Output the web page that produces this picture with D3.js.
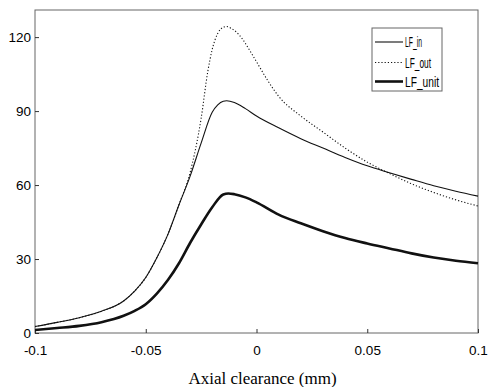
<!DOCTYPE html>
<html>
<head>
<meta charset="utf-8">
<script src="https://cdn.jsdelivr.net/npm/d3@7"></script>
<style>
html,body{margin:0;padding:0;background:#fff;}
svg{display:block;}
</style>
</head>
<body>
<svg id="chart" width="496" height="387"></svg>
<script>
// ---- data ----
const xIn  = [-0.1,-0.09,-0.08,-0.07,-0.06,-0.055,-0.05,-0.045,-0.04,-0.035,-0.03,-0.025,-0.02,-0.0175,-0.015,-0.0135,-0.01,-0.005,0,0.01,0.02,0.03,0.04,0.05,0.06,0.07,0.08,0.09,0.1];
const lfIn = [2.6,4.3,6.2,8.8,13,17,22.5,30.5,40,52,63.5,77,89.5,92.5,94,94.2,93.5,91,88,83.2,78.8,75,71.2,67.8,65,62.3,59.7,57.5,55.5];

const xOut  = [-0.1,-0.09,-0.08,-0.07,-0.06,-0.055,-0.05,-0.045,-0.04,-0.035,-0.03,-0.025,-0.022,-0.02,-0.0175,-0.015,-0.0135,-0.0115,-0.009,-0.006,-0.003,0,0.005,0.01,0.02,0.03,0.04,0.05,0.06,0.07,0.08,0.09,0.1];
const lfOut = [2.6,4.3,6.2,8.8,13,17,22.5,30.5,40,52,65,87,106,115,121.5,124,124.3,123.6,122,118.8,114.5,110,102.5,96,88,81.5,75,69.3,64.7,60.5,57,54,51.5];

const xUnit  = [-0.1,-0.09,-0.08,-0.07,-0.06,-0.055,-0.05,-0.045,-0.04,-0.035,-0.03,-0.025,-0.02,-0.015,-0.0127,-0.01,-0.005,0,0.01,0.02,0.03,0.04,0.05,0.06,0.07,0.08,0.09,0.1];
const lfUnit = [1.2,2.0,2.9,4.4,7,9,11.7,16,21.5,28.3,36.5,44,51,56.2,56.6,56.3,55,53,48,44.5,41.3,38.5,36.3,34.3,32.3,30.6,29.3,28.3];

const xTicks = [-0.1,-0.05,0,0.05,0.1];
const xTickLabels = ["-0.1","-0.05","0","0.05","0.1"];
const yTicks = [0,30,60,90,120];
const legendLabels = ["LF_in","LF_out","LF_unit"];

// ---- layout ----
const svg = d3.select("#chart");
const L = 35, R = 478, T = 10, B = 333;
const x = d3.scaleLinear().domain([-0.1,0.1]).range([L,R]);
const y = d3.scaleLinear().domain([0,131]).range([B,T]);

// frame
svg.append("rect").attr("x",L).attr("y",T).attr("width",R-L).attr("height",B-T)
  .attr("fill","none").attr("stroke","#666").attr("stroke-width",1);

// axes (inward ticks)
const xAxis = svg.append("g").attr("transform",`translate(0,${B})`)
  .call(d3.axisBottom(x).tickValues(xTicks).tickSizeInner(-4).tickSizeOuter(0)
        .tickFormat((d,i)=>xTickLabels[i]));
xAxis.select(".domain").remove();
xAxis.selectAll("line").attr("stroke","#333");
xAxis.selectAll("text").attr("y",22).attr("dy",0)
  .attr("font-family","'Liberation Sans', Arial, sans-serif").attr("font-size",13.5).attr("fill","#000");

const yAxis = svg.append("g").attr("transform",`translate(${L},0)`)
  .call(d3.axisLeft(y).tickValues(yTicks).tickSizeInner(-4).tickSizeOuter(0));
yAxis.select(".domain").remove();
yAxis.selectAll("line").attr("stroke","#333");
yAxis.selectAll("text").attr("x",-4).attr("dy","0.36em")
  .attr("font-family","'Liberation Sans', Arial, sans-serif").attr("font-size",13.5).attr("fill","#000");

// x axis title
svg.append("text").attr("x",262.5).attr("y",384).attr("text-anchor","middle")
  .attr("font-family","'Liberation Serif','Times New Roman',serif").attr("font-size",17)
  .text("Axial clearance (mm)");

// lines
const line = d3.line().x(d=>x(d[0])).y(d=>y(d[1])).curve(d3.curveMonotoneX);
const series = [
  {xs:xIn, ys:lfIn, w:1.1, dash:null},
  {xs:xOut, ys:lfOut, w:1.1, dash:"1.2,2"},
  {xs:xUnit, ys:lfUnit, w:2.6, dash:null}
];
series.forEach(s=>{
  svg.append("path").datum(s.xs.map((v,i)=>[v,s.ys[i]]))
    .attr("d",line).attr("fill","none").attr("stroke","#111")
    .attr("stroke-width",s.w).attr("stroke-dasharray",s.dash);
});

// legend
const lg = svg.append("g");
lg.append("rect").attr("x",372).attr("y",28).attr("width",70).attr("height",63)
  .attr("fill","#fff").attr("stroke","#666").attr("stroke-width",1);
const rowsY = [42,62.5,81.5];
const textLens = [17,26,34];
legendLabels.forEach((lab,i)=>{
  const s = series[i];
  lg.append("line").attr("x1",375).attr("x2",403).attr("y1",rowsY[i]).attr("y2",rowsY[i])
    .attr("stroke","#111").attr("stroke-width",s.w).attr("stroke-dasharray",s.dash);
  lg.append("text").attr("x",405).attr("y",rowsY[i]).attr("dy","0.36em")
    .attr("font-family","'Liberation Sans', Arial, sans-serif")
    .attr("font-size",14).attr("textLength",textLens[i]).attr("lengthAdjust","spacingAndGlyphs")
    .text(lab);
});
</script>
</body>
</html>
